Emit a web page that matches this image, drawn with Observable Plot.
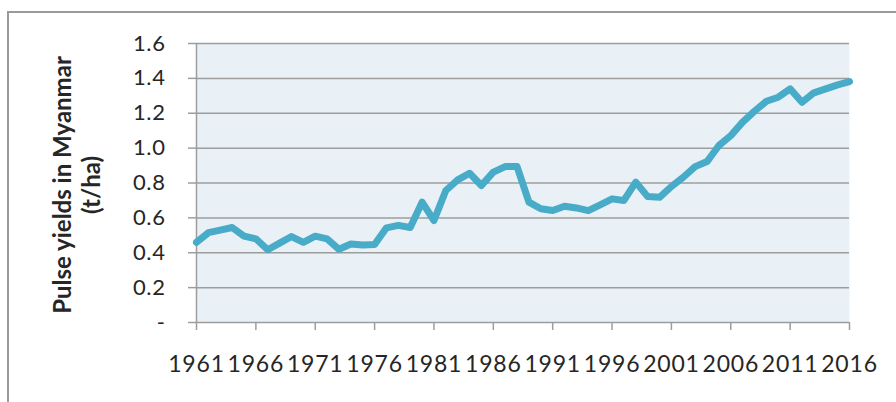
<!DOCTYPE html>
<html><head><meta charset="utf-8">
<script src="https://cdn.jsdelivr.net/npm/d3@7"></script>
<script src="https://cdn.jsdelivr.net/npm/@observablehq/plot@0.6"></script>
<style>
body{margin:0;background:#fff;}
#wrap{position:relative;width:896px;height:402px;overflow:hidden;}
#frame{position:absolute;left:7px;top:11px;width:900px;height:400px;border-left:2px solid #9a9a9a;border-top:2px solid #9a9a9a;}
#chart{position:absolute;left:0;top:0;}
#chart [aria-label="x-axis tick label"] text{letter-spacing:0.8px;}
#chart [aria-label="y-axis tick label"] text{letter-spacing:0.6px;}
</style></head><body>
<div id="wrap"><div id="frame"></div><div id="chart"></div></div>
<script>
const years = [1961,1962,1963,1964,1965,1966,1967,1968,1969,1970,
  1971,1972,1973,1974,1975,1976,1977,1978,1979,1980,
  1981,1982,1983,1984,1985,1986,1987,1988,1989,1990,
  1991,1992,1993,1994,1995,1996,1997,1998,1999,2000,
  2001,2002,2003,2004,2005,2006,2007,2008,2009,2010,
  2011,2012,2013,2014,2015,2016];
const yields = [0.46,0.515,0.53,0.545,0.495,0.48,0.417,0.455,0.493,0.46,
  0.495,0.48,0.42,0.45,0.445,0.447,0.543,0.557,0.545,0.69,
  0.585,0.757,0.818,0.856,0.786,0.862,0.894,0.894,0.69,0.652,
  0.642,0.667,0.657,0.642,0.675,0.709,0.70,0.805,0.722,0.718,
  0.78,0.833,0.894,0.923,1.015,1.072,1.149,1.212,1.269,1.292,
  1.34,1.263,1.317,1.34,1.363,1.382];
const xTicks = [1961,1966,1971,1976,1981,1986,1991,1996,2001,2006,2011,2016];
const yTicks = [0,0.2,0.4,0.6,0.8,1.0,1.2,1.4,1.6];
const yTitle = "Pulse yields in Myanmar\n(t/ha)";

const data = years.map((year, i) => ({year, value: yields[i]}));
const grid = "#9d9d9d";

const chart = Plot.plot({
  width: 896, height: 402,
  marginLeft: 196, marginRight: 47, marginTop: 43, marginBottom: 80,
  style: {fontFamily: "Lato", background: "transparent", color: "#262626", overflow: "visible"},
  x: {domain: [1961, 2016], label: null},
  y: {domain: [0, 1.6], label: null},
  marks: [
    Plot.frame({fill: "#e9f1f6", stroke: null}),
    Plot.gridY(yTicks, {stroke: grid, strokeOpacity: 1, strokeWidth: 1.5}),
    Plot.ruleX([xTicks[0]], {stroke: grid, strokeWidth: 1.5}),
    Plot.axisY({ticks: yTicks, tickSize: 8, tickPadding: 23, fontSize: 22, stroke: grid, strokeWidth: 1.5,
      fill: "#262626", tickFormat: d => d === 0 ? "-" : d.toFixed(1), label: null}),
    Plot.axisX({ticks: xTicks, tickSize: 8, tickPadding: 25, fontSize: 23, stroke: grid, strokeWidth: 1.5,
      fill: "#262626", tickFormat: d => String(d), label: null}),
    Plot.line(data, {x: "year", y: "value", stroke: "#48abc8", strokeWidth: 7, strokeLinejoin: "round", strokeLinecap: "round"}),
    Plot.text([yTitle], {text: d => d, frameAnchor: "left", rotate: -90, dx: -120, dy: 2,
      fontSize: 24, fontWeight: "bold", lineHeight: 1.2, textAnchor: "middle", fill: "#262626"})
  ]
});
document.getElementById("chart").appendChild(chart);
</script>
</body></html>
